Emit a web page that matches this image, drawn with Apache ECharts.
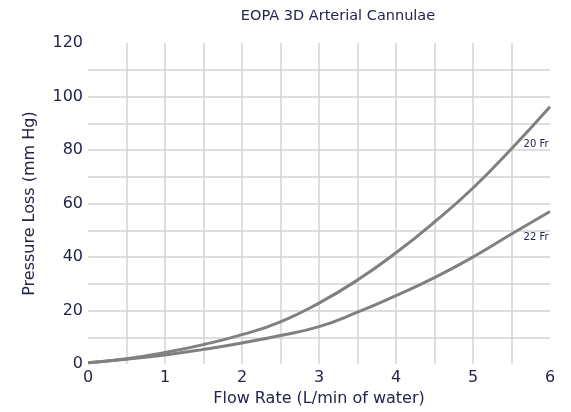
<!DOCTYPE html>
<html>
<head>
<meta charset="utf-8">
<script src="https://cdn.jsdelivr.net/npm/echarts@6/dist/echarts.min.js"></script>
<style>html,body{margin:0;padding:0;background:#fff}#c{width:571px;height:412px}</style>
</head>
<body>
<div id="c"></div>
<script>
var flowRates = [0, 0.5, 1, 1.5, 2, 2.5, 3, 3.5, 4, 4.5, 5, 5.5, 6];
var fr20 = [0.5, 2.0, 4.3, 7.3, 11.0, 15.8, 22.8, 31.4, 41.6, 53.1, 65.8, 80.5, 96.2];
var fr22 = [0.5, 1.8, 3.4, 5.5, 7.9, 10.7, 14.0, 19.4, 25.6, 32.3, 40.0, 48.6, 57.0];
var seriesNames = ['20 Fr', '22 Fr'];
var labelAnchorX = [5.82, 5.82];
var labelAnchorY = [82, 47.5];

var textColor = '#22264a';
var font = '"DejaVu Sans", "Open Sans", sans-serif';

function pairs(xs, ys) { return xs.map(function (x, i) { return [x, ys[i]]; }); }

var chart = echarts.init(document.getElementById('c'), null, { renderer: 'canvas' });
var allSeries = [fr20, fr22].map(function (vals, i) {
  return {
    name: seriesNames[i],
    type: 'line',
    smooth: true,
    symbol: 'none',
    data: pairs(flowRates, vals),
    lineStyle: { color: '#808080', width: 3 },
    markPoint: {
      symbol: 'circle', symbolSize: 0,
      data: [{ coord: [labelAnchorX[i], labelAnchorY[i]], value: seriesNames[i] }],
      label: { show: true, formatter: seriesNames[i], color: textColor, fontSize: 10, fontFamily: font, position: 'inside' }
    }
  };
});

chart.setOption({
  animation: false,
  title: {
    text: 'EOPA 3D Arterial Cannulae',
    left: 333, top: 4, textAlign: 'center',
    textStyle: { color: textColor, fontSize: 14.5, fontWeight: 'normal', fontFamily: font }
  },
  grid: { left: 88, right: 21, top: 43, bottom: 45, containLabel: false },
  xAxis: {
    type: 'value', min: 0, max: 6, interval: 0.5,
    name: 'Flow Rate (L/min of water)', nameLocation: 'middle', nameGap: 26,
    nameTextStyle: { color: textColor, fontSize: 16, fontFamily: font },
    axisLine: { show: false }, axisTick: { show: false },
    axisLabel: {
      color: textColor, fontSize: 16, fontFamily: font, margin: 6,
      formatter: function (v) { return Number.isInteger(v) ? String(v) : ''; }
    },
    splitLine: { show: true, showMinLine: false, showMaxLine: false, lineStyle: { color: '#d3d3d3', width: 1.5 } }
  },
  yAxis: {
    type: 'value', min: 0, max: 120, interval: 10,
    name: 'Pressure Loss (mm Hg)', nameLocation: 'middle', nameGap: 50, nameRotate: 90,
    nameTextStyle: { color: textColor, fontSize: 16, fontFamily: font },
    axisLine: { show: false }, axisTick: { show: false },
    axisLabel: {
      color: textColor, fontSize: 16, fontFamily: font, margin: 5,
      formatter: function (v) { return v % 20 === 0 ? String(v) : ''; }
    },
    splitLine: { show: true, showMinLine: false, showMaxLine: false, lineStyle: { color: '#d3d3d3', width: 1.5 } }
  },
  series: allSeries
});
</script>
</body>
</html>
